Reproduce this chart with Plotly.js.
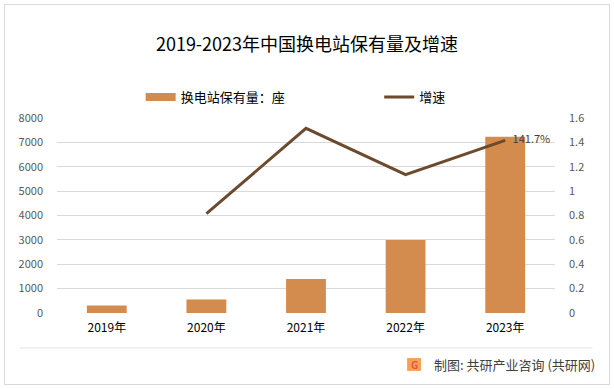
<!DOCTYPE html>
<html>
<head>
<meta charset="utf-8">
<script src="https://cdn.plot.ly/plotly-3.0.1.min.js"></script>
<style>html,body{margin:0;padding:0;background:#fff;}#chart{width:614px;height:389px;}</style>
</head>
<body>
<div id="chart"></div>
<script>
const categories = ['2019年','2020年','2021年','2022年','2023年'];
const stations = [306, 555, 1400, 3000, 7230];
const growth = [null, 0.815, 1.515, 1.135, 1.417];
const growthLabels = ['', '', '', '', '141.7%'];
const leftTicks = [0,1000,2000,3000,4000,5000,6000,7000,8000];
const rightTicks = [0,0.2,0.4,0.6,0.8,1,1.2,1.4,1.6];

const font = '"Noto Sans CJK SC", "Noto Sans", sans-serif';
const barColor = '#D48B4E';
const lineColor = '#6B4A2E';

const data = [
  {type:'bar', x:categories, y:stations, name:'换电站保有量：座',
   marker:{color:barColor}, yaxis:'y', hoverinfo:'skip', showlegend:false},
  // legend-only entry for the bars (wide rectangle swatch)
  {type:'scatter', mode:'lines', x:[null], y:[null], name:'换电站保有量：座',
   line:{color:barColor, width:8}, legend:'legend', showlegend:true},
  {type:'scatter', mode:'lines+text', x:categories, y:growth, name:'增速',
   line:{color:lineColor, width:3}, yaxis:'y2', text:growthLabels,
   texttemplate:'\u00a0\u00a0\u00a0%{text}',
   textposition:'middle right', textfont:{size:11, color:'#404040', family:font},
   cliponaxis:false, connectgaps:false, legend:'legend2'}
];

const layout = {
  width:614, height:389,
  margin:{l:57, r:59, t:118, b:76},
  paper_bgcolor:'#fff', plot_bgcolor:'#fff',
  font:{family:font, color:'#595959'},
  title:{text:'2019-2023年中国换电站保有量及增速', font:{size:18, color:'#000', family:font},
         x:0.5, xanchor:'center', y:0.885, yanchor:'middle'},
  showlegend:true,
  legend:{orientation:'h', x:0.168, xanchor:'left', y:1.107, yanchor:'middle',
          font:{size:13, color:'#000', family:font}, itemwidth:30, bgcolor:'rgba(0,0,0,0)'},
  legend2:{orientation:'h', x:0.647, xanchor:'left', y:1.107, yanchor:'middle',
          font:{size:13, color:'#000', family:font}, itemwidth:30, bgcolor:'rgba(0,0,0,0)'},
  bargap:0.6,
  xaxis:{type:'category', tickfont:{size:12, color:'#000', family:font},
         showgrid:false, zeroline:false, showline:false, ticks:'', ticklabelstandoff:6},
  yaxis:{range:[0,8000], tickvals:leftTicks, ticktext:leftTicks.map(String),
         showgrid:true, gridcolor:'#D9D9D9', gridwidth:1, zeroline:false, showline:false,
         tickfont:{size:11, color:'#595959', family:font}, ticks:'', ticklabelstandoff:13},
  yaxis2:{range:[0,1.6], tickvals:rightTicks, ticktext:rightTicks.map(String), overlaying:'y', side:'right',
          showgrid:false, zeroline:false, showline:false,
          tickfont:{size:11, color:'#595959', family:font}, ticks:'', ticklabelstandoff:13},
  shapes:[
    {type:'line', xref:'paper', yref:'paper', x0:-0.075, x1:1.075, y0:-0.179, y1:-0.179,
     line:{color:'#E3E3E3', width:1}},
    {type:'rect', xref:'paper', yref:'paper', x0:0.703, x1:0.731, y0:-0.297, y1:-0.231,
     fillcolor:'#F4A257', line:{width:0}}
  ],
  annotations:[
    {text:'制图: 共研产业咨询 (共研网)', xref:'paper', yref:'paper', x:1.084, y:-0.262,
     xanchor:'right', yanchor:'middle', showarrow:false, font:{size:13, color:'#404040', family:font}},
    {text:'<b>G</b>', xref:'paper', yref:'paper', x:0.717, y:-0.264, xanchor:'center', yanchor:'middle',
     showarrow:false, font:{size:10, color:'#E8523A', family:font}}
  ]
};

Plotly.newPlot('chart', data, layout, {displayModeBar:false, staticPlot:true}).then(()=>{
  const svg = document.querySelector('#chart .main-svg');
  const r = document.createElementNS('http://www.w3.org/2000/svg','rect');
  r.setAttribute('x','4.5'); r.setAttribute('y','4.5'); r.setAttribute('width','605'); r.setAttribute('height','380');
  r.setAttribute('fill','none'); r.setAttribute('stroke','#D9D9D9'); r.setAttribute('stroke-width','1');
  svg.appendChild(r);
});
</script>
</body>
</html>
